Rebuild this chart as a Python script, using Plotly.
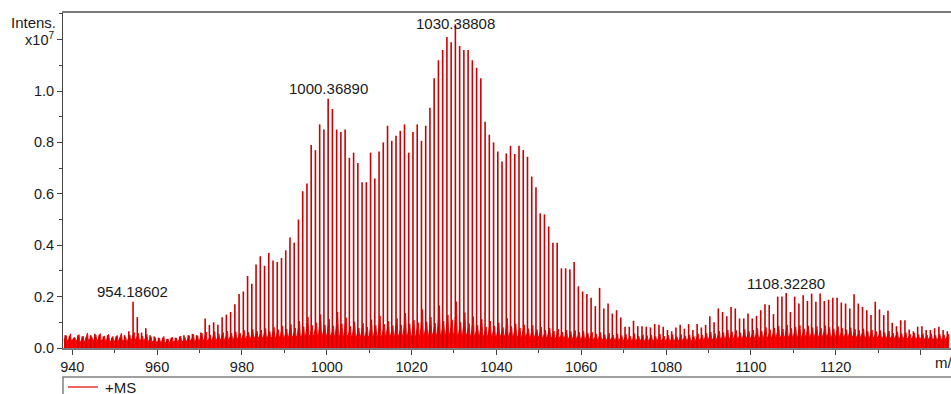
import plotly.graph_objects as go

# ---------------- data (intensities in units of 1e7) ----------------
nominal_mz = list(range(938, 1147))  # 209 nominal masses, one peak per mass unit

peak_int = [
    0.050, 0.045, 0.040, 0.050, 0.045, 0.040, 0.050, 0.055, 0.050, 0.045,   # 938-947
    0.050, 0.040, 0.045, 0.040, 0.050, 0.065, 0.180, 0.120, 0.060, 0.077,   # 948-957
    0.050, 0.045, 0.040, 0.040, 0.035, 0.040, 0.040, 0.045, 0.050, 0.050,   # 958-967
    0.055, 0.050, 0.060, 0.115, 0.090, 0.100, 0.090, 0.120, 0.130, 0.140,   # 968-977
    0.170, 0.210, 0.220, 0.280, 0.250, 0.325, 0.357, 0.320, 0.370, 0.340,   # 978-987
    0.335, 0.350, 0.380, 0.430, 0.410, 0.500, 0.610, 0.640, 0.790, 0.770,   # 988-997
    0.870, 0.850, 0.970, 0.930, 0.850, 0.840, 0.850, 0.740, 0.760, 0.720,   # 998-1007
    0.645, 0.645, 0.760, 0.660, 0.765, 0.800, 0.865, 0.806, 0.826, 0.845,   # 1008-1017
    0.870, 0.760, 0.840, 0.870, 0.806, 0.865, 0.935, 1.050, 1.120, 1.160,   # 1018-1027
    1.210, 1.190, 1.260, 1.175, 1.160, 1.160, 1.120, 1.090, 1.050, 0.880,   # 1028-1037
    0.830, 0.800, 0.765, 0.726, 0.757, 0.787, 0.755, 0.787, 0.770, 0.744,   # 1038-1047
    0.667, 0.625, 0.524, 0.520, 0.473, 0.410, 0.410, 0.310, 0.310, 0.305,   # 1048-1057
    0.335, 0.240, 0.220, 0.210, 0.196, 0.163, 0.234, 0.154, 0.173, 0.134,   # 1058-1067
    0.147, 0.119, 0.083, 0.083, 0.106, 0.085, 0.085, 0.083, 0.080, 0.093,   # 1068-1077
    0.090, 0.083, 0.070, 0.065, 0.080, 0.090, 0.075, 0.093, 0.070, 0.093,   # 1078-1087
    0.080, 0.090, 0.124, 0.100, 0.154, 0.140, 0.124, 0.160, 0.154, 0.115,   # 1088-1097
    0.115, 0.134, 0.115, 0.125, 0.147, 0.170, 0.167, 0.132, 0.200, 0.200,   # 1098-1107
    0.214, 0.140, 0.200, 0.173, 0.205, 0.183, 0.212, 0.180, 0.212, 0.183,   # 1108-1117
    0.188, 0.196, 0.196, 0.177, 0.173, 0.154, 0.209, 0.173, 0.160, 0.147,   # 1118-1127
    0.128, 0.180, 0.150, 0.128, 0.145, 0.098, 0.085, 0.108, 0.108, 0.072,   # 1128-1137
    0.065, 0.083, 0.085, 0.070, 0.070, 0.077, 0.083, 0.070, 0.065,          # 1138-1146
]

noise_low = [
    0.030, 0.026, 0.032, 0.028, 0.024, 0.030, 0.034, 0.029, 0.031, 0.027,
    0.030, 0.025, 0.028, 0.032, 0.027, 0.030, 0.035, 0.033, 0.029, 0.031,
    0.026, 0.024, 0.022, 0.025, 0.021, 0.024, 0.023, 0.027, 0.025, 0.028,
    0.030, 0.027, 0.033, 0.030, 0.028, 0.034, 0.031, 0.035, 0.032, 0.036,
    0.034, 0.038, 0.036, 0.040, 0.037, 0.042, 0.039, 0.041, 0.044, 0.040,
    0.043, 0.045, 0.041, 0.046, 0.044, 0.048, 0.045, 0.050, 0.047, 0.052,
    0.049, 0.053, 0.050, 0.047, 0.052, 0.048, 0.051, 0.046, 0.049, 0.045,
    0.048, 0.044, 0.047, 0.050, 0.046, 0.049, 0.052, 0.048, 0.051, 0.049,
    0.053, 0.050, 0.047, 0.052, 0.049, 0.054, 0.051, 0.055, 0.052, 0.056,
    0.053, 0.057, 0.054, 0.050, 0.055, 0.052, 0.049, 0.053, 0.050, 0.047,
    0.051, 0.048, 0.045, 0.049, 0.046, 0.050, 0.047, 0.044, 0.048, 0.045,
    0.042, 0.046, 0.043, 0.040, 0.044, 0.041, 0.038, 0.042, 0.039, 0.036,
    0.040, 0.037, 0.034, 0.038, 0.035, 0.032, 0.036, 0.033, 0.031, 0.034,
    0.030, 0.033, 0.029, 0.032, 0.028, 0.031, 0.030, 0.027, 0.031, 0.029,
    0.032, 0.028, 0.030, 0.027, 0.031, 0.029, 0.033, 0.030, 0.028, 0.032,
    0.031, 0.034, 0.036, 0.033, 0.038, 0.035, 0.039, 0.037, 0.040, 0.036,
    0.039, 0.041, 0.038, 0.042, 0.040, 0.044, 0.041, 0.043, 0.046, 0.042,
    0.045, 0.043, 0.047, 0.044, 0.046, 0.048, 0.044, 0.047, 0.045, 0.049,
    0.046, 0.044, 0.048, 0.045, 0.043, 0.047, 0.044, 0.042, 0.045, 0.041,
    0.043, 0.040, 0.042, 0.039, 0.041, 0.038, 0.040, 0.037, 0.039, 0.036,
    0.038, 0.035, 0.037, 0.034, 0.036, 0.033, 0.035, 0.034, 0.036,
]

noise_high = [
    0.048, 0.055, 0.042, 0.052, 0.046, 0.058, 0.044, 0.050, 0.056, 0.047,
    0.053, 0.045, 0.049, 0.057, 0.043, 0.051, 0.060, 0.058, 0.046, 0.054,
    0.044, 0.040, 0.038, 0.045, 0.036, 0.042, 0.039, 0.046, 0.041, 0.048,
    0.052, 0.047, 0.058, 0.062, 0.050, 0.064, 0.055, 0.060, 0.066, 0.057,
    0.063, 0.058, 0.068, 0.061, 0.072, 0.065, 0.070, 0.076, 0.064, 0.080,
    0.071, 0.085, 0.074, 0.092, 0.078, 0.105, 0.083, 0.120, 0.088, 0.098,
    0.130, 0.090, 0.112, 0.086, 0.140, 0.095, 0.118, 0.084, 0.102, 0.078,
    0.096, 0.082, 0.110, 0.088, 0.125, 0.092, 0.104, 0.087, 0.115, 0.090,
    0.135, 0.094, 0.108, 0.098, 0.150, 0.102, 0.120, 0.096, 0.165, 0.105,
    0.128, 0.110, 0.180, 0.100, 0.138, 0.095, 0.122, 0.088, 0.112, 0.082,
    0.105, 0.086, 0.098, 0.080, 0.115, 0.084, 0.094, 0.078, 0.090, 0.075,
    0.088, 0.072, 0.082, 0.070, 0.078, 0.066, 0.074, 0.062, 0.070, 0.064,
    0.068, 0.060, 0.065, 0.058, 0.062, 0.055, 0.060, 0.052, 0.058, 0.050,
    0.055, 0.049, 0.053, 0.047, 0.056, 0.046, 0.052, 0.048, 0.050, 0.045,
    0.054, 0.046, 0.049, 0.052, 0.044, 0.053, 0.047, 0.051, 0.045, 0.055,
    0.050, 0.058, 0.062, 0.056, 0.066, 0.060, 0.070, 0.063, 0.068, 0.059,
    0.072, 0.065, 0.070, 0.076, 0.066, 0.080, 0.071, 0.078, 0.085, 0.074,
    0.090, 0.076, 0.082, 0.088, 0.075, 0.086, 0.079, 0.084, 0.077, 0.087,
    0.080, 0.074, 0.083, 0.076, 0.071, 0.079, 0.073, 0.068, 0.075, 0.066,
    0.070, 0.064, 0.068, 0.060, 0.066, 0.058, 0.063, 0.056, 0.060, 0.054,
    0.058, 0.052, 0.056, 0.050, 0.055, 0.049, 0.053, 0.051, 0.054,
]

series_name = "+MS"
label_mz = [954.18602, 1000.36890, 1030.38808, 1108.32280]
label_text = ["954.18602", "1000.36890", "1030.38808", "1108.32280"]
label_height = [0.180, 0.970, 1.260, 0.214]

x_tick_vals = [940, 960, 980, 1000, 1020, 1040, 1060, 1080, 1100, 1120, 1140]
x_tick_text = ["940", "960", "980", "1000", "1020", "1040", "1060", "1080", "1100", "1120", ""]
y_tick_vals = [0.0, 0.2, 0.4, 0.6, 0.8, 1.0, 1.2]
y_tick_text = ["0.0", "0.2", "0.4", "0.6", "0.8", "1.0", "x10<sup>7</sup>"]

# ---------------- build traces ----------------
PEAK_OFFSET = 0.33
stick_x, stick_y = [], []
for m, h in zip(nominal_mz, peak_int):
    stick_x += [m + PEAK_OFFSET, m + PEAK_OFFSET, None]
    stick_y += [0, h, None]

noise_x, noise_y = [], []
for m, lo, hi in zip(nominal_mz, noise_low, noise_high):
    noise_x += [m + 0.05, m + 0.58, m + 0.75]
    noise_y += [lo, hi, lo]

FONT = "Liberation Sans, Arial, Helvetica, sans-serif"
TXT = "#1a1a1a"
RED = "#e00000"

fig = go.Figure()
fig.add_trace(go.Scatter(
    x=noise_x, y=noise_y, mode="lines", fill="tozeroy",
    line=dict(color="#ff0000", width=1), fillcolor="#ff0000",
    showlegend=False, hoverinfo="skip"))
fig.add_trace(go.Scatter(
    x=stick_x, y=stick_y, mode="lines", name=series_name, showlegend=False,
    line=dict(color="#cc0000", width=1.6)))

PW, PH, ML, MT = 888, 335, 63, 13   # plot area size / offsets in px


def px_x(px):
    return (px - ML) / PW


def px_y(py):
    return (MT + PH - py) / PH


annotations = []
label_shift = [10, 10, 1, 10]
for x, t, h, s in zip(label_mz, label_text, label_height, label_shift):
    annotations.append(dict(x=x, y=h, text=t, showarrow=False, xanchor="center",
                            yanchor="middle", yshift=s,
                            font=dict(family=FONT, size=15, color=TXT)))
annotations.append(dict(xref="paper", yref="paper", x=px_x(58), y=px_y(22),
                        text="Intens.", showarrow=False, xanchor="right", yanchor="middle",
                        font=dict(family=FONT, size=15, color=TXT)))
annotations.append(dict(xref="paper", yref="paper", x=px_x(933), y=px_y(362),
                        text="m/z", showarrow=False, xanchor="left", yanchor="middle",
                        font=dict(family=FONT, size=15, color=TXT)))
annotations.append(dict(xref="paper", yref="paper", x=px_x(103), y=px_y(387),
                        text=series_name, showarrow=False, xanchor="left", yanchor="middle",
                        font=dict(family=FONT, size=15, color=TXT)))

shapes = [
    dict(type="rect", xref="paper", yref="paper",
         x0=0, x1=1.05, y0=px_y(420), y1=px_y(377),
         line=dict(color="#808080", width=1.5)),
    dict(type="line", xref="paper", yref="paper",
         x0=px_x(68), x1=px_x(98), y0=px_y(387), y1=px_y(387),
         line=dict(color=RED, width=1.2)),
]

fig.update_layout(
    width=951, height=394, autosize=False,
    margin=dict(l=ML, r=0, t=MT, b=394 - MT - PH, pad=0, autoexpand=False),
    plot_bgcolor="white", paper_bgcolor="white",
    font=dict(family=FONT, size=14.5, color=TXT),
    showlegend=False,
    annotations=annotations,
    shapes=shapes,
    xaxis=dict(range=[937.81, 1147.19], showgrid=False, zeroline=False,
               showline=True, linecolor="#7a7a7a", linewidth=1.5, mirror=True,
               tickmode="array", tickvals=x_tick_vals, ticktext=x_tick_text,
               ticks="outside", ticklen=5, tickcolor="#444", tickwidth=1,
               tickfont=dict(family=FONT, size=14.5, color=TXT),
               minor=dict(dtick=10, tick0=940, ticks="outside", ticklen=3,
                          tickcolor="#444", showgrid=False)),
    yaxis=dict(range=[0, 1.3035], showgrid=False, zeroline=False,
               showline=True, linecolor="#444", linewidth=1,
               tickmode="array", tickvals=y_tick_vals, ticktext=y_tick_text,
               ticks="outside", ticklen=5, tickcolor="#444", tickwidth=1,
               tickfont=dict(family=FONT, size=14.5, color=TXT),
               minor=dict(dtick=0.1, tick0=0, ticks="outside", ticklen=3,
                          tickcolor="#444", showgrid=False)),
)

fig.write_html("out.html")
